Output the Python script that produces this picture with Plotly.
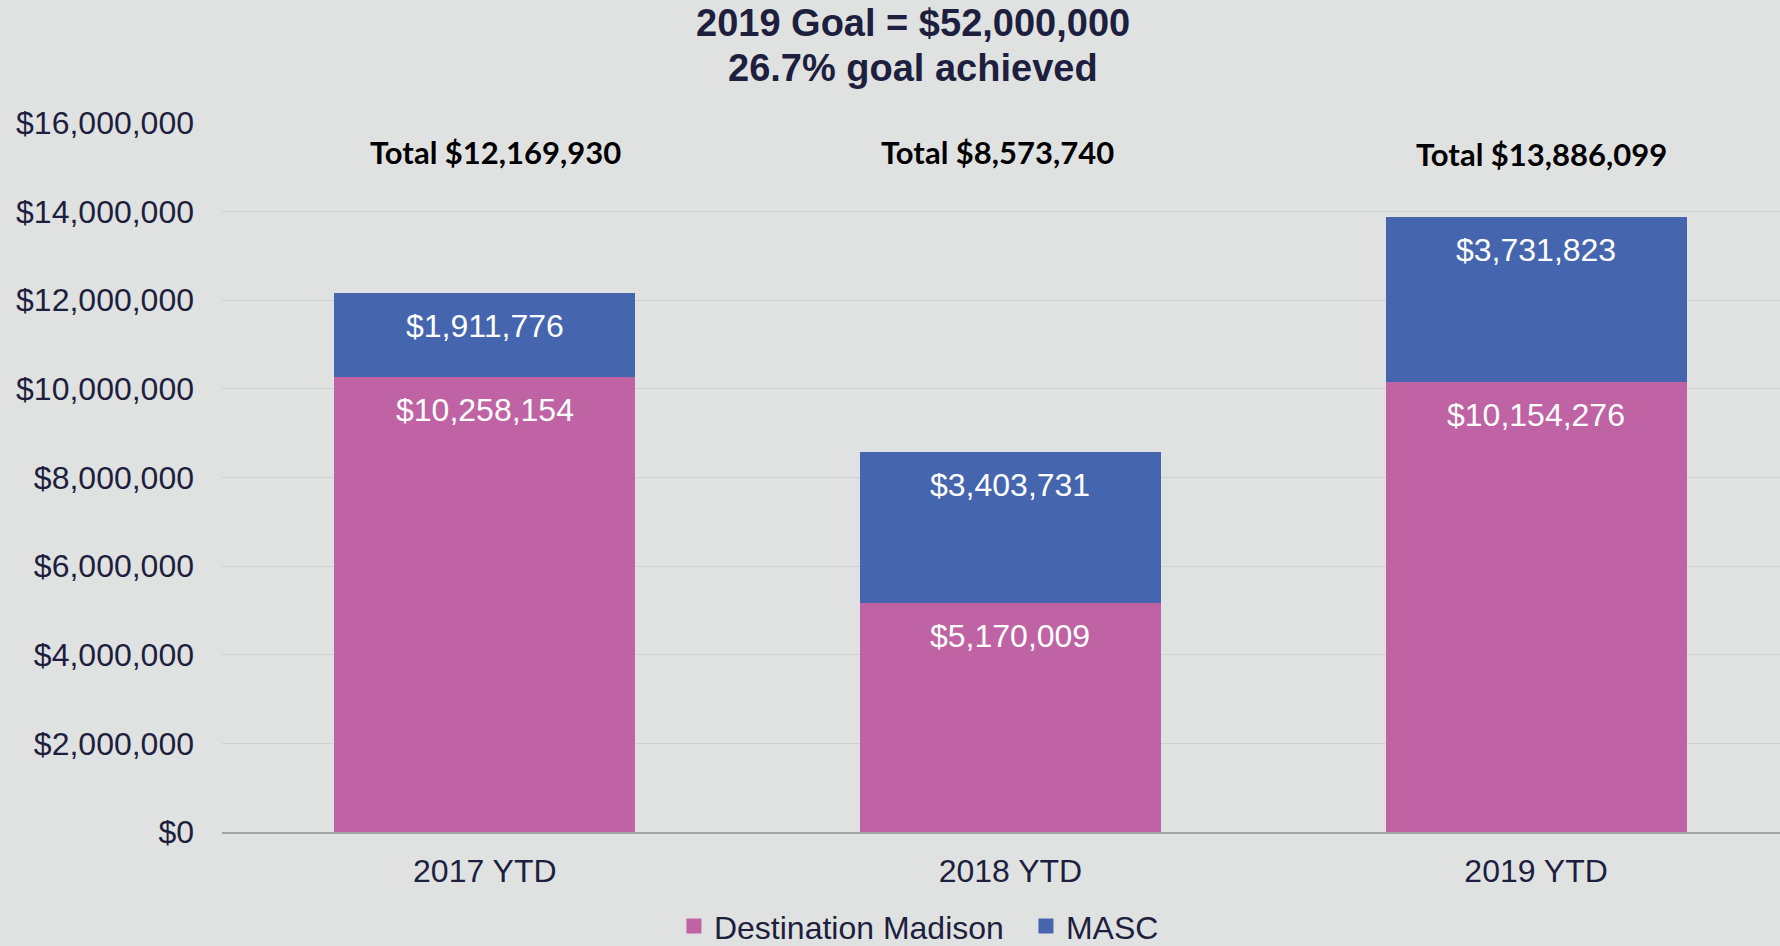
import plotly.graph_objects as go

categories = ["2017 YTD", "2018 YTD", "2019 YTD"]
destination_madison = [10258154, 5170009, 10154276]
masc = [1911776, 3403731, 3731823]
totals = [12169930, 8573740, 13886099]
title_lines = ["2019 Goal = $52,000,000", "26.7% goal achieved"]
y_ticks = [0, 2000000, 4000000, 6000000, 8000000, 10000000, 12000000, 14000000, 16000000]
y_tick_labels = ["$" + f"{v:,}" for v in y_ticks]

PINK = "#BF63A5"
BLUE = "#4566AE"
BG = "#E0E2E1"
NAVY = "#1E1F3F"
FONT = "Liberation Sans, Arial, sans-serif"

fig = go.Figure()
fig.add_trace(go.Bar(x=categories, y=destination_madison, name="Destination Madison",
                     marker=dict(color=PINK, line=dict(width=0)), width=0.573, showlegend=False))
fig.add_trace(go.Bar(x=categories, y=masc, name="MASC",
                     marker=dict(color=BLUE, line=dict(width=0)), width=0.573, showlegend=False))
# legend-only entries with larger square swatches
for nm, col in [("Destination Madison", PINK), ("MASC", BLUE)]:
    fig.add_trace(go.Scatter(x=[None], y=[None], mode="markers", name=nm,
                             marker=dict(symbol="square", size=15, color=col), showlegend=True))

annotations = []
for i, c in enumerate(categories):
    annotations.append(dict(x=c, y=destination_madison[i], xref="x", yref="y",
                            text=f"${destination_madison[i]:,}", showarrow=False,
                            yanchor="middle", yshift=-33,
                            font=dict(family=FONT, size=32, color="white")))
    top = destination_madison[i] + masc[i]
    annotations.append(dict(x=c, y=top, xref="x", yref="y",
                            text=f"${masc[i]:,}", showarrow=False,
                            yanchor="middle", yshift=-33,
                            font=dict(family=FONT, size=32, color="white")))

total_y = [0.959, 0.959, 0.956]
total_xshift = [11, -13, 5]
for i, c in enumerate(categories):
    annotations.append(dict(x=c, y=total_y[i], xref="x", yref="paper",
                            text=f"<b>Total ${totals[i]:,}</b>", showarrow=False,
                            xshift=total_xshift[i], yanchor="middle",
                            font=dict(family="Lato, sans-serif", size=31, color="black")))

title_y = [(832 - 23) / 709, (832 - 68) / 709]
for t, ty in zip(title_lines, title_y):
    annotations.append(dict(x=0.4435, y=ty, xref="paper", yref="paper",
                            text=f"<b>{t}</b>", showarrow=False, yanchor="middle",
                            font=dict(family=FONT, size=38, color=NAVY)))

fig.update_layout(
    width=1780, height=946,
    margin=dict(l=222, r=0, t=123, b=114, autoexpand=False),
    paper_bgcolor=BG, plot_bgcolor=BG,
    barmode="stack",
    showlegend=True,
    legend=dict(orientation="h", x=0.516, xanchor="center", y=-0.133, yanchor="middle",
                font=dict(family=FONT, size=32, color=NAVY), traceorder="normal",
                bgcolor="rgba(0,0,0,0)", itemsizing="trace", itemwidth=30,
                entrywidth=307, entrywidthmode="pixels"),
    annotations=annotations,
    font=dict(family=FONT, color=NAVY),
)
fig.update_xaxes(range=[-0.5, 2.464], showgrid=False, showline=True, linecolor="#A3A4A6",
                 linewidth=2, ticks="", tickfont=dict(family=FONT, size=32, color=NAVY),
                 ticklabelstandoff=10, fixedrange=True)
fig.update_yaxes(range=[0, 16000000], tickvals=y_ticks, ticktext=y_tick_labels,
                 showgrid=True, gridcolor="#CFD0D0", gridwidth=1, zeroline=False,
                 showline=False, tickfont=dict(family=FONT, size=32, color=NAVY),
                 ticklabelstandoff=27, fixedrange=True)

fig.write_html("out.html", config={"displayModeBar": False},
               post_script="document.body.style.margin='0';document.body.style.padding='0';document.body.style.overflow='hidden';")
